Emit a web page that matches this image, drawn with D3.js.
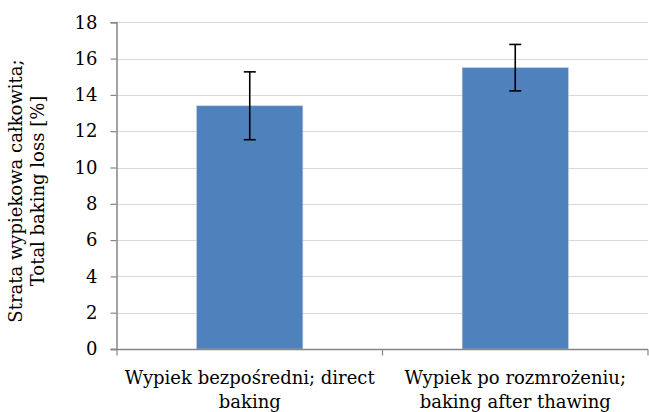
<!DOCTYPE html>
<html>
<head>
<meta charset="utf-8">
<script src="https://cdn.jsdelivr.net/npm/d3@7"></script>
<style>
  body { margin: 0; background: #fff; }
</style>
</head>
<body>
<svg id="chart" width="649" height="412"></svg>
<script>
// data
var categories = [
  ['Wypiek bezpośredni; direct', 'baking'],
  ['Wypiek po rozmrożeniu;', 'baking after thawing']
];
var values = [13.4, 15.5];
var errors = [1.87, 1.28];
var yTicks = [0, 2, 4, 6, 8, 10, 12, 14, 16, 18];
var yLabel = ['Strata wypiekowa całkowita;', 'Total baking loss [%]'];

var m = {left: 117, right: 648, top: 22.3, bottom: 349};
var fontSize = 18;
var font = '"DejaVu Serif", serif';

var svg = d3.select('#chart')
  .style('font-family', font);

var x = d3.scaleBand()
  .domain(d3.range(categories.length))
  .range([m.left, m.right])
  .padding(0);

var y = d3.scaleLinear()
  .domain([0, 18])
  .range([m.bottom, m.top]);

// gridlines
svg.append('g')
  .selectAll('line')
  .data(yTicks.filter(function(d){ return d > 0; }))
  .enter().append('line')
  .attr('x1', m.left).attr('x2', m.right)
  .attr('y1', function(d){ return Math.round(y(d)) + 0.5; })
  .attr('y2', function(d){ return Math.round(y(d)) + 0.5; })
  .attr('stroke', '#d9d9d9')
  .attr('stroke-width', 1);

// bars
var barW = x.bandwidth() * 0.4;
svg.append('g')
  .selectAll('rect')
  .data(values)
  .enter().append('rect')
  .attr('x', function(d, i){ return x(i) + (x.bandwidth() - barW) / 2; })
  .attr('width', barW)
  .attr('y', function(d){ return y(d); })
  .attr('height', function(d){ return m.bottom - y(d); })
  .attr('fill', '#4f81bd')
  .attr('stroke', '#b9c9e0')
  .attr('stroke-width', 0.6);

// error bars
var eb = svg.append('g').attr('stroke', '#000').attr('stroke-width', 1.6);
values.forEach(function(v, i){
  var cx = x(i) + x.bandwidth() / 2;
  var hi = y(v + errors[i]), lo = y(v - errors[i]);
  eb.append('line').attr('x1', cx).attr('x2', cx).attr('y1', hi).attr('y2', lo);
  eb.append('line').attr('x1', cx - 6).attr('x2', cx + 6).attr('y1', hi).attr('y2', hi);
  eb.append('line').attr('x1', cx - 6).attr('x2', cx + 6).attr('y1', lo).attr('y2', lo);
});

// y axis
var yAxis = svg.append('g')
  .attr('transform', 'translate(' + (m.left - 0.5) + ',0)')
  .call(d3.axisLeft(y).tickValues(yTicks).tickSize(6).tickPadding(13));
yAxis.attr('font-family', null).attr('font-size', fontSize);
yAxis.select('.domain').attr('stroke', '#868686').attr('stroke-width', 1.5);
yAxis.selectAll('.tick line').attr('stroke', '#868686').attr('stroke-width', 1.2);
yAxis.selectAll('.tick text').attr('fill', '#000');

// x axis
var xAxis = svg.append('g')
  .attr('transform', 'translate(0,' + (m.bottom + 0.5) + ')');
xAxis.append('line')
  .attr('x1', m.left - 6).attr('x2', m.right)
  .attr('stroke', '#868686').attr('stroke-width', 1.5);
xAxis.selectAll('line.tk')
  .data(d3.range(categories.length + 1))
  .enter().append('line')
  .attr('class', 'tk')
  .attr('x1', function(d){ return m.left + d * x.step(); })
  .attr('x2', function(d){ return m.left + d * x.step(); })
  .attr('y1', 0).attr('y2', 6)
  .attr('stroke', '#868686').attr('stroke-width', 1.2);

var labels = svg.append('g').attr('text-anchor', 'middle').attr('font-size', fontSize);
categories.forEach(function(lines, i){
  var t = labels.append('text')
    .attr('x', x(i) + x.bandwidth() / 2)
    .attr('y', 384);
  lines.forEach(function(s, j){
    t.append('tspan')
      .attr('x', x(i) + x.bandwidth() / 2)
      .attr('dy', j === 0 ? 0 : 23.5)
      .text(s);
  });
});

// y axis title
var yt = svg.append('text')
  .attr('transform', 'translate(22,191) rotate(-90)')
  .attr('text-anchor', 'middle')
  .attr('font-size', fontSize);
yLabel.forEach(function(s, j){
  yt.append('tspan').attr('x', 0).attr('dy', j === 0 ? 0 : 21.5).text(s);
});
</script>
</body>
</html>
